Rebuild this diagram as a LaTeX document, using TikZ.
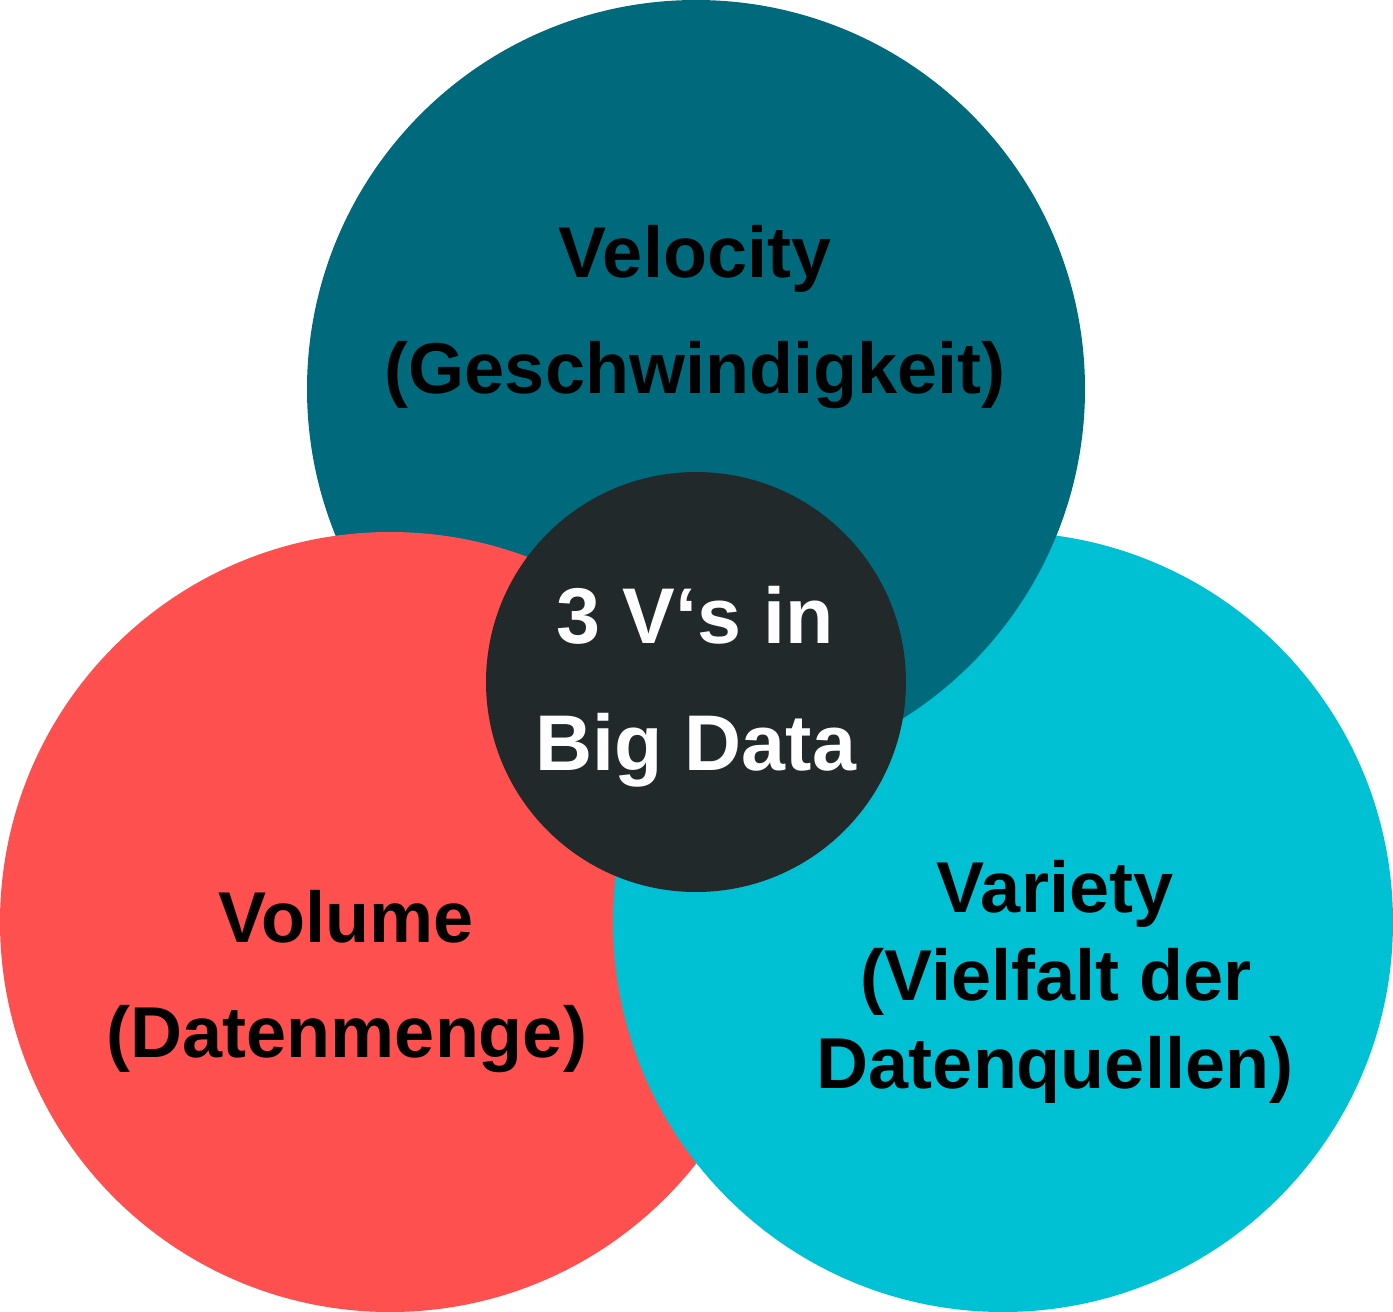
\documentclass[tikz,border=0pt]{standalone}
\usepackage{fontspec}
\setmainfont{Liberation Sans}
\definecolor{velcol}{HTML}{006A7D}
\definecolor{volcol}{HTML}{FF5050}
\definecolor{varcol}{HTML}{00C0D3}
\definecolor{midcol}{HTML}{22292B}
\begin{document}
\begin{tikzpicture}[x=1pt,y=-1pt,
  lbl/.style={anchor=base,inner sep=0pt,font=\fontsize{72}{86}\selectfont\bfseries,text=black},
  midlbl/.style={anchor=base,inner sep=0pt,font=\fontsize{79}{94}\selectfont\bfseries,text=white}]
\useasboundingbox (0,0) rectangle (1393,1312);
% circles
\fill[varcol] (1003,922) circle (390);
\fill[velcol] (696,389) circle (389);
\fill[volcol] (390,922) circle (390);
\begin{scope}
  \clip (390,922) circle (392.5);
  \fill[varcol] (1003,922) circle (390);
\end{scope}
\fill[midcol] (696,682) circle (210);
% labels
\node[lbl] (vel1) at (695,277) {Velocity};
\node[lbl] (vel2) at (695,393) {(Geschwindigkeit)};
\node[lbl] (vol1) at (346,942) {Volume};
\node[lbl] (vol2) at (347,1057) {(Datenmenge)};
\node[lbl] (var1) at (1055,912) {Variety};
\node[lbl] (var2) at (1056,1000) {(Vielfalt der};
\node[lbl] (var3) at (1055,1088) {Datenquellen)};
\node[midlbl] (mid1) at (695,643) {3 V‘s in};
\node[midlbl] (mid2) at (696,770) {Big Data};
\end{tikzpicture}
\end{document}
